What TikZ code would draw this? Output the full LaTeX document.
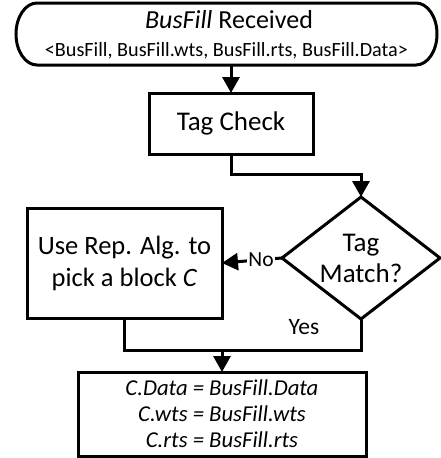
\documentclass[tikz,border=0pt]{standalone}
\usepackage{fontspec}
\setmainfont{Carlito}
\usetikzlibrary{arrows.meta,shapes.geometric}
\tikzset{
  flow/.style={line width=3pt, draw=black},
  arr/.style={flow, -{Triangle[length=16pt,width=17pt]}},
  procbox/.style={flow, rectangle, inner sep=0pt, outer sep=0pt, align=center},
  decision/.style={flow, diamond, aspect=1.3, inner sep=0pt, outer sep=0pt, align=center},
  fsize/.style={font=\fontsize{#1}{1.18*#1}\selectfont},
}
\begin{document}
\begin{tikzpicture}[x=1pt, y=-1pt]
  \useasboundingbox (0,0) rectangle (440,458);

  % start terminator (outline drawn with elliptic ends)
  \node[rectangle, minimum width=421pt, minimum height=62pt,
        inner sep=0pt, outer sep=0pt] (start) at (226.5,34) {};
  \draw[flow] ([xshift=21pt]start.north west) -- ([xshift=-21pt]start.north east)
      arc[start angle=90, end angle=-90, x radius=21pt, y radius=31pt]
      -- ([xshift=21pt]start.south west)
      arc[start angle=270, end angle=90, x radius=21pt, y radius=31pt] -- cycle;
  \node[font=\fontsize{26}{30}\selectfont] (t1) at (229,20) {\textit{BusFill} Received};
  \node[font=\fontsize{20.2}{24}\selectfont] (t2) at (226.5,51) {<BusFill, BusFill.wts, BusFill.rts, BusFill.Data>};

  % tag check
  \node[procbox, font=\fontsize{27}{31}\selectfont, minimum width=164pt, minimum height=61pt]
        (tag) at (231,123.5) {Tag Check};

  % decision
  \node[decision, font=\fontsize{27}{31}\selectfont, minimum width=158pt, minimum height=122pt]
        (dia) at (361,258) {Tag\\Match?};

  % replacement
  \node[procbox, font=\fontsize{26.5}{32}\selectfont, minimum width=195pt, minimum height=110pt]
        (rep) at (124.5,263) {Use Rep. Alg. to\\pick a block \textit{C}};

  % fill block
  \node[procbox, font=\fontsize{22.7}{26}\selectfont, minimum width=288pt, minimum height=84pt]
        (fill) at (222,414)
        {\textit{C.Data = BusFill.Data}\\\textit{C.wts = BusFill.wts}\\\textit{C.rts = BusFill.rts}};

  % connectors
  \draw[arr] (start.south -| tag.north) -- (tag.north);
  \draw[arr] (tag.south) -- ++(0,20) -| (dia.north);
  \draw[arr] (dia.west) -- node[font=\fontsize{21.5}{25}\selectfont, fill=white, inner sep=1pt, pos=0.35] (no) {No} (rep.east);
  \coordinate (join) at (222,350);
  \draw[flow] (rep.south) |- (dia.south |- join) -- (dia.south);
  \draw[arr] (join) -- (fill.north);
  \node[font=\fontsize{23.5}{27}\selectfont] (yes) at (304,327) {Yes};
\end{tikzpicture}
\end{document}
